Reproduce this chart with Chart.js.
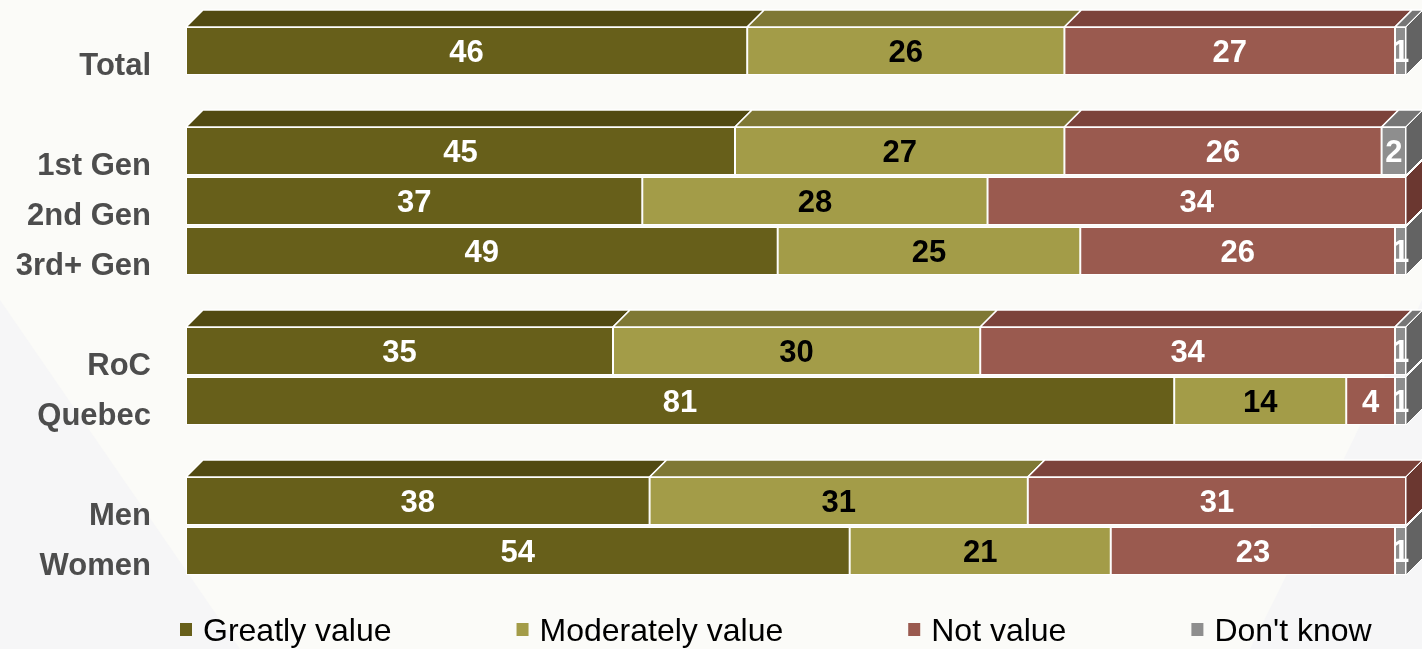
<!DOCTYPE html>
<html>
<head>
<meta charset="utf-8">
<script src="https://cdn.jsdelivr.net/npm/chart.js@4"></script>
<style>
  html, body { margin: 0; padding: 0; background: #fbfbf8; }
  #wrap { position: relative; width: 1422px; height: 649px; }
</style>
</head>
<body>
<div id="wrap"><canvas id="chart"></canvas></div>
<script>
// rows of the chart, empty strings are the gaps between groups
var categories = ['Total', '', '1st Gen', '2nd Gen', '3rd+ Gen', '', 'RoC', 'Quebec', '', 'Men', 'Women'];

// percentages (labels show them rounded)
var greatlyValue    = [46.0, null, 45.0, 37.4, 48.5, null, 35.0, 81.0, null, 38.0, 54.4];
var moderatelyValue = [26.0, null, 27.0, 28.3, 24.8, null, 30.1, 14.1, null, 31.0, 21.4];
var notValue        = [27.1, null, 26.0, 34.3, 25.8, null, 34.0, 4.0,  null, 31.0, 23.3];
var dontKnow        = [0.9,  null, 2.0,  0,    0.9,  null, 0.9,  0.9,  null, 0,    0.9];

var seriesNames = ['Greatly value', 'Moderately value', 'Not value', "Don't know"];

var DEPTH = 17;

// draws the fake 3d faces and the numbers inside the bars
var boxes3d = {
    id: 'boxes3d',
    afterDatasetsDraw: function (chart) {
        var ctx = chart.ctx;
        var metas = chart.data.datasets.map(function (d, i) { return chart.getDatasetMeta(i); });
        var first = chart.data.datasets[0].data;

        ctx.save();
        for (var i = 0; i < categories.length; i++) {
            if (first[i] == null) continue;
            var isFirstRow = (i === 0 || first[i - 1] == null);
            var lastSeg = -1;

            for (var s = 0; s < metas.length; s++) {
                var v = chart.data.datasets[s].data[i];
                if (!v) continue;
                lastSeg = s;
                if (isFirstRow) {
                    var b = metas[s].data[i].getProps(['x', 'y', 'base', 'height'], true);
                    var top = b.y - b.height / 2;
                    ctx.beginPath();
                    ctx.moveTo(b.base, top);
                    ctx.lineTo(b.x, top);
                    ctx.lineTo(b.x + DEPTH, top - DEPTH);
                    ctx.lineTo(b.base + DEPTH, top - DEPTH);
                    ctx.closePath();
                    ctx.fillStyle = chart.data.datasets[s].topColor;
                    ctx.fill();
                    ctx.strokeStyle = '#ffffff';
                    ctx.lineWidth = 1.5;
                    ctx.stroke();
                }
            }

            if (lastSeg >= 0) {
                var e = metas[lastSeg].data[i].getProps(['x', 'y', 'base', 'height'], true);
                var t = e.y - e.height / 2, bt = e.y + e.height / 2;
                ctx.beginPath();
                ctx.moveTo(e.x, t);
                ctx.lineTo(e.x + DEPTH, t - DEPTH);
                ctx.lineTo(e.x + DEPTH, bt - DEPTH);
                ctx.lineTo(e.x, bt);
                ctx.closePath();
                ctx.fillStyle = chart.data.datasets[lastSeg].sideColor;
                ctx.fill();
                ctx.strokeStyle = '#ffffff';
                ctx.lineWidth = 1;
                ctx.stroke();
            }
        }

        // numbers
        ctx.font = 'bold 31px "Liberation Sans", Arial, sans-serif';
        ctx.textAlign = 'center';
        ctx.textBaseline = 'middle';
        for (var s2 = 0; s2 < metas.length; s2++) {
            var ds = chart.data.datasets[s2];
            metas[s2].data.forEach(function (bar, idx) {
                var val = ds.data[idx];
                if (val == null || Math.round(val) === 0) return;
                var p = bar.getProps(['x', 'y', 'base'], true);
                ctx.fillStyle = ds.labelColor;
                ctx.fillText(String(Math.round(val)), (p.x + p.base) / 2, p.y + 2);
            });
        }
        ctx.restore();
    },
    afterDraw: function (chart) {
        // legend along the bottom
        var ctx = chart.ctx;
        ctx.save();
        ctx.font = '32px "Liberation Sans", Arial, sans-serif';
        ctx.textBaseline = 'middle';
        ctx.textAlign = 'left';
        var x = 180, y = 632;
        chart.data.datasets.forEach(function (ds) {
            ctx.fillStyle = ds.backgroundColor;
            ctx.fillRect(x, y - 9, 12, 13);
            ctx.fillStyle = '#000000';
            ctx.fillText(ds.label, x + 23, y);
            x += 23 + ctx.measureText(ds.label).width + 125;
        });
        ctx.restore();
    }
};

// faint watermark shapes behind everything
var backdrop = {
    id: 'backdrop',
    beforeDraw: function (chart) {
        var ctx = chart.ctx;
        ctx.save();
        ctx.fillStyle = '#fbfbf8';
        ctx.fillRect(0, 0, chart.width, chart.height);
        ctx.fillStyle = '#f6f6f7';
        ctx.beginPath();
        ctx.moveTo(0, 300);
        ctx.lineTo(240, 649);
        ctx.lineTo(0, 649);
        ctx.closePath();
        ctx.fill();
        ctx.beginPath();
        ctx.moveTo(1422, 300);
        ctx.lineTo(1250, 649);
        ctx.lineTo(1422, 649);
        ctx.closePath();
        ctx.fill();
        ctx.restore();
    }
};

var datasets = [
    { label: seriesNames[0], data: greatlyValue, backgroundColor: '#675f1a', topColor: '#524a12', sideColor: '#4a4310', labelColor: '#ffffff' },
    { label: seriesNames[1], data: moderatelyValue, backgroundColor: '#a39c48', topColor: '#7f7834', sideColor: '#6f6a2d', labelColor: '#000000' },
    { label: seriesNames[2], data: notValue, backgroundColor: '#9a5a4f', topColor: '#7c433b', sideColor: '#6b3730', labelColor: '#ffffff' },
    { label: seriesNames[3], data: dontKnow, backgroundColor: '#8e8e8e', topColor: '#767676', sideColor: '#636363', labelColor: '#ffffff' }
];
datasets.forEach(function (d) {
    d.borderColor = '#ffffff';
    d.borderWidth = 1;
    d.borderSkipped = false;
    d.barPercentage = 0.96;
    d.categoryPercentage = 1;
});

new Chart(document.getElementById('chart').getContext('2d'), {
    type: 'bar',
    data: { labels: categories, datasets: datasets },
    options: {
        indexAxis: 'y',
        responsive: true,
        maintainAspectRatio: false,
        animation: false,
        layout: { padding: { top: 26, bottom: 73, right: 16, left: 0 } },
        plugins: {
            legend: { display: false },
            tooltip: { enabled: false }
        },
        scales: {
            x: { stacked: true, min: 0, max: 100, display: false },
            y: {
                stacked: true,
                grid: { display: false, drawTicks: false },
                border: { display: false },
                ticks: {
                    autoSkip: false,
                    padding: 35,
                    labelOffset: 15,
                    color: '#4d4d4d',
                    font: { family: '"Liberation Sans", Arial, sans-serif', size: 31, weight: 'bold' }
                },
                afterFit: function (scale) {
                    scale.width = 186;
                    scale.paddingTop = 0;
                    scale.paddingBottom = 0;
                }
            }
        }
    },
    plugins: [backdrop, boxes3d]
});
</script>
</body>
</html>
